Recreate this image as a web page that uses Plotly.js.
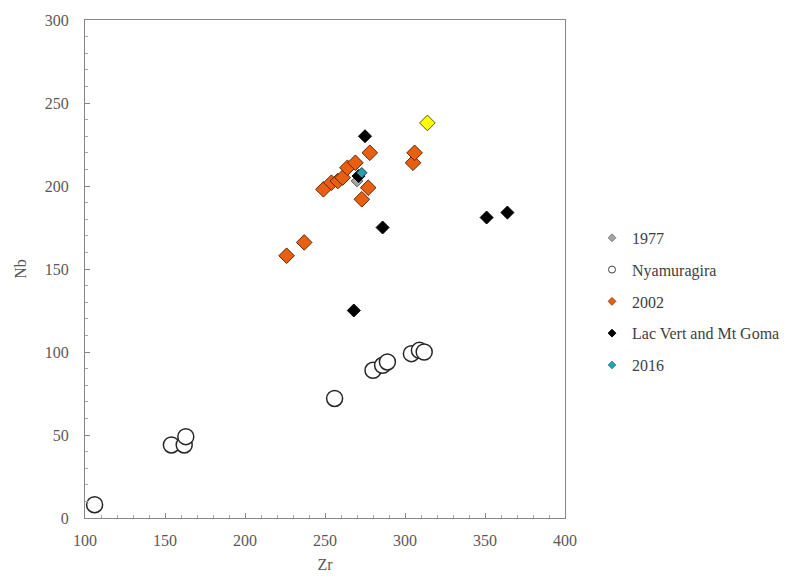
<!DOCTYPE html>
<html>
<head>
<meta charset="utf-8">
<script src="https://cdn.plot.ly/plotly-3.0.1.min.js"></script>
<style>html,body{margin:0;padding:0;background:#fff;}#chart{width:810px;height:579px;}</style>
</head>
<body>
<div id="chart"></div>
<script>
// Data (Zr vs Nb)
const zr1977 = [270];
const nb1977 = [203];

const zrNyamuragira = [106, 154, 162, 163, 256, 280, 286, 289, 304, 309, 312];
const nbNyamuragira = [8, 44, 44, 49, 72, 89, 92, 94, 99, 101, 100];

const zr2002 = [226, 237, 249, 254, 258, 261, 264, 269, 278, 277, 273, 305, 306];
const nb2002 = [158, 166, 198, 202, 203, 205, 211, 214, 220, 199, 192, 214, 220];

const zrLacVert = [275, 286, 351, 364, 268, 271];
const nbLacVert = [230, 175, 181, 184, 125, 206];

const zr2016 = [273];
const nb2016 = [208];

const zrExtra = [314];
const nbExtra = [238];

const seriesNames = ['1977', 'Nyamuragira', '2002', 'Lac Vert and Mt Goma', '2016'];

const serif = 'Liberation Serif';
const styles = [
  {symbol: 'diamond', size: 9, color: '#a5a5a5', line: {color: '#595959', width: 1}},
  {symbol: 'circle', size: 16, color: '#ffffff', line: {color: '#262626', width: 1.5}},
  {symbol: 'diamond', size: 12, color: '#e8600f', line: {color: '#5a2a08', width: 1}},
  {symbol: 'diamond', size: 10, color: '#000000', line: {color: '#000000', width: 1}},
  {symbol: 'diamond', size: 8, color: '#2d9bb0', line: {color: '#1f3f4a', width: 1}}
];
const legendStyles = [
  {symbol: 'diamond', size: 6, color: '#a5a5a5', line: {color: '#7f7f7f', width: 1}},
  {symbol: 'circle', size: 7, color: '#ffffff', line: {color: '#404040', width: 1}},
  {symbol: 'diamond', size: 6, color: '#e8600f', line: {color: '#9a4a10', width: 1}},
  {symbol: 'diamond', size: 6, color: '#000000', line: {color: '#000000', width: 1}},
  {symbol: 'diamond', size: 6, color: '#2d9bb0', line: {color: '#2d9bb0', width: 1}}
];
const xs = [zr1977, zrNyamuragira, zr2002, zrLacVert, zr2016];
const ys = [nb1977, nbNyamuragira, nb2002, nbLacVert, nb2016];

const traces = [];
for (let i = 0; i < 5; i++) {
  traces.push({x: xs[i], y: ys[i], name: seriesNames[i], type: 'scatter', mode: 'markers',
    showlegend: false, marker: styles[i]});
}
traces.push({x: zrExtra, y: nbExtra, name: '', type: 'scatter', mode: 'markers', showlegend: false,
  marker: {symbol: 'diamond', size: 12, color: '#ffff00', line: {color: '#5a5a00', width: 1}}});
// legend entries with small markers (Excel-style)
for (let i = 0; i < 5; i++) {
  traces.push({x: [null], y: [null], name: seriesNames[i], type: 'scatter', mode: 'markers',
    legendgroup: 'g' + i, showlegend: true, marker: legendStyles[i]});
}

const axisCommon = {
  showgrid: false, zeroline: false, showline: true, mirror: true,
  linecolor: '#868686', linewidth: 1,
  ticks: 'inside', ticklen: 5, tickcolor: '#868686',
  tickfont: {family: serif, size: 16, color: '#595959'},
  minor: {ticks: 'inside', ticklen: 3, tickcolor: '#a6a6a6', dtick: 10}
};

const layout = {
  width: 810, height: 579,
  font: {family: serif},
  margin: {l: 85, r: 245, t: 20, b: 61},
  paper_bgcolor: '#ffffff', plot_bgcolor: '#ffffff',
  showlegend: true,
  xaxis: Object.assign({}, axisCommon, {
    range: [100, 400], dtick: 50, tick0: 100, ticklabelstandoff: 8,
    title: {text: 'Zr', font: {family: serif, size: 16, color: '#595959'}, standoff: 10}
  }),
  yaxis: Object.assign({}, axisCommon, {
    range: [0, 300], dtick: 50, tick0: 0, ticklabelstandoff: 12,
    title: {text: 'Nb', font: {family: serif, size: 16, color: '#595959'}, standoff: 14}
  }),
  legend: {
    x: (592 - 85) / 480, xanchor: 'left', y: 0.435, yanchor: 'middle',
    font: {family: serif, size: 16, color: '#404040'},
    itemsizing: 'trace', itemwidth: 30,
    traceorder: 'grouped', tracegroupgap: 8,
    bgcolor: 'rgba(0,0,0,0)'
  }
};

Plotly.newPlot('chart', traces, layout, {displayModeBar: false, staticPlot: true});
</script>
</body>
</html>
